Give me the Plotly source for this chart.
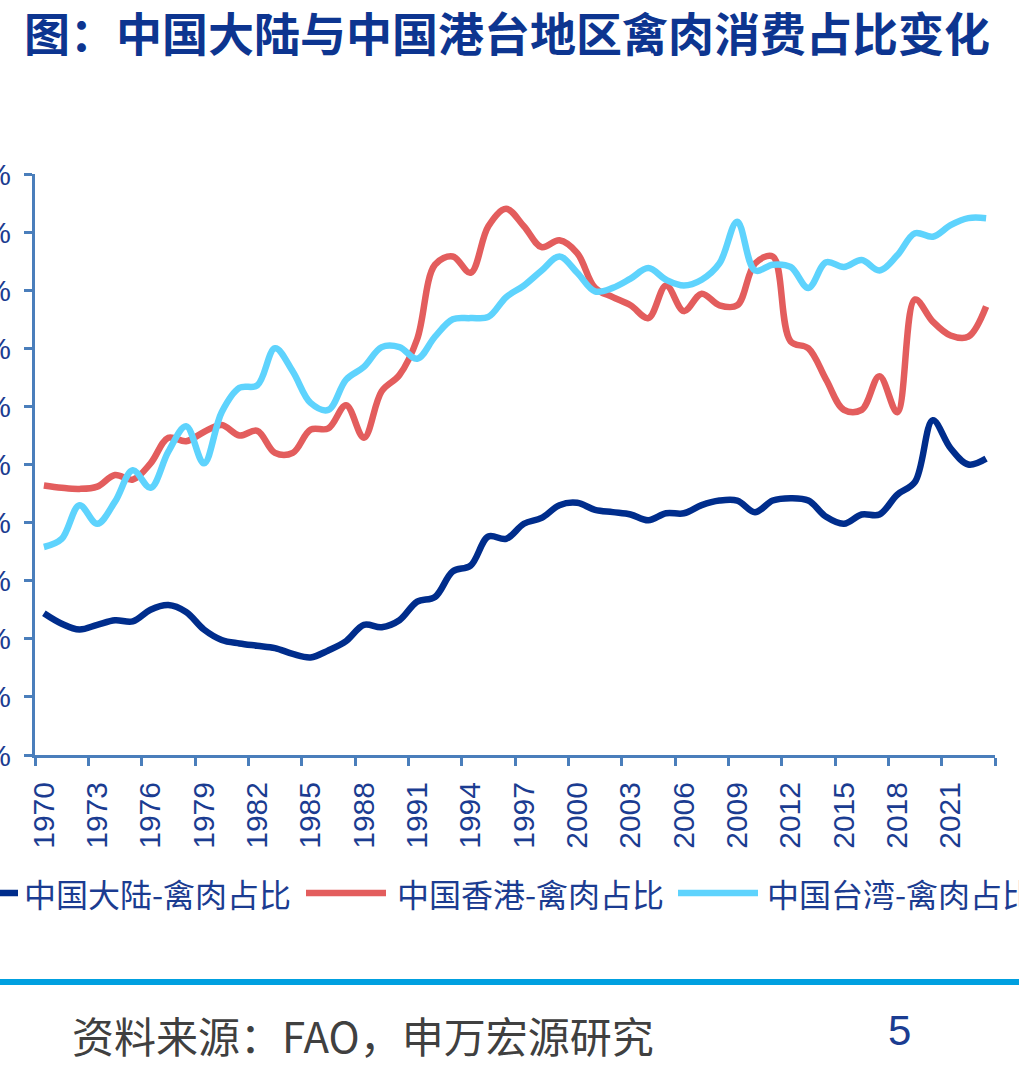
import plotly.graph_objects as go

# ---------------- data ----------------
years = list(range(1970, 2024))

mainland = [12.2, 11.3, 10.8, 11.2, 11.6, 11.5, 12.5, 12.9, 12.3, 10.8,
            9.9, 9.6, 9.4, 9.2, 8.7, 8.4, 9.0, 9.8, 11.2, 11.0,
            11.6, 13.2, 13.6, 15.8, 16.3, 18.8, 18.6, 19.9, 20.4, 21.5,
            21.7, 21.1, 20.9, 20.7, 20.2, 20.8, 20.8, 21.5, 21.9, 21.9,
            20.9, 21.9, 22.1, 21.9, 20.5, 19.9, 20.7, 20.7, 22.4, 23.5,
            28.8, 26.4, 25.0, 25.5]

hongkong = [23.2, 23.0, 22.9, 23.1, 24.1, 23.7, 25.1, 27.3, 27.0, 27.8,
            28.4, 27.5, 27.9, 26.0, 26.0, 28.0, 28.1, 30.1, 27.3, 31.3,
            32.7, 35.8, 42.2, 42.9, 41.5, 45.5, 47.0, 45.5, 43.7, 44.3,
            43.2, 40.2, 39.4, 38.7, 37.6, 40.4, 38.2, 39.7, 38.7, 38.7,
            42.3, 42.9, 35.6, 35.0, 32.3, 29.7, 29.7, 32.6, 29.5, 39.2,
            37.3, 36.1, 36.0, 38.6]

taiwan = [17.9, 18.6, 21.5, 19.9, 21.8, 24.5, 23.0, 26.1, 28.3, 25.1,
          29.5, 31.6, 31.8, 35.0, 33.0, 30.3, 29.7, 32.3, 33.4, 35.1,
          35.1, 34.1, 36.0, 37.5, 37.6, 37.7, 39.4, 40.4, 41.7, 42.9,
          41.5, 39.9, 40.2, 41.0, 41.9, 40.9, 40.4, 40.9, 42.3, 45.9,
          41.7, 42.2, 42.0, 40.2, 42.4, 42.0, 42.6, 41.7, 43.0, 44.9,
          44.6, 45.6, 46.2, 46.2]

series_names = ["中国大陆-禽肉占比", "中国香港-禽肉占比", "中国台湾-禽肉占比"]
x_tick_labels = [str(y) for y in range(1970, 2022, 3)] + [""]
y_tick_values = list(range(0, 51, 5))

title_text = "图：中国大陆与中国港台地区禽肉消费占比变化"
source_text = "资料来源：FAO，申万宏源研究"
page_text = "5"

# ---------------- style ----------------
W, H = 1019, 1069
PL, PR, PT, PB = 35, 995, 174, 755
C_MAIN = "#002D8C"
C_HK = "#E35D5D"
C_TW = "#5ED3FD"
C_AXIS = "#4A7EBB"
C_TEXT = "#1B3C91"
C_TITLE = "#0D3590"
CJK = "Noto Sans CJK SC"
LAT = "Liberation Sans, Arial"


def px_x(px):
    return (px - PL) / (PR - PL)


def px_y(py):
    return (PB - py) / (PB - PT)


fig = go.Figure()
for vals, color, name in [(mainland, C_MAIN, series_names[0]),
                          (hongkong, C_HK, series_names[1]),
                          (taiwan, C_TW, series_names[2])]:
    fig.add_trace(go.Scatter(x=years, y=vals, mode="lines", name=name,
                             line=dict(color=color, width=6.5, shape="spline", smoothing=1.0),
                             showlegend=False))

# category boundaries for ticks (every 3 categories)
x_tick_vals = [years[0] - 0.5 + 3 * k for k in range(len(x_tick_labels))]

fig.update_layout(
    width=W, height=H,
    margin=dict(l=PL, r=W - PR, t=PT, b=H - PB, pad=0),
    paper_bgcolor="white", plot_bgcolor="white",
    template="none",
    xaxis=dict(range=[years[0] - 0.5, years[-1] + 0.5], tickmode="array",
               tickvals=x_tick_vals, ticktext=x_tick_labels,
               showline=True, linecolor=C_AXIS, linewidth=3,
               ticks="outside", ticklen=8, tickwidth=2.5, tickcolor=C_AXIS,
               tickangle=-90, tickfont=dict(family=LAT, size=30, color=C_TEXT),
               ticklabelshift=9, ticklabelstandoff=4,
               showgrid=False, zeroline=False, automargin=False),
    yaxis=dict(range=[0, 50], tickmode="array", tickvals=y_tick_values,
               ticktext=[f"{v}%" for v in y_tick_values],
               showline=True, linecolor=C_AXIS, linewidth=3,
               ticks="outside", ticklen=8, tickwidth=2.5, tickcolor=C_AXIS,
               tickfont=dict(family=LAT, size=30, color=C_TEXT),
               ticklabelstandoff=7,
               showgrid=False, zeroline=False, automargin=False),
)

shapes = []
annotations = []

# legend (drawn manually)
legend_items = [(-62, 18, 22, C_MAIN, series_names[0]),
                (306, 386, 395, C_HK, series_names[1]),
                (678, 758, 765, C_TW, series_names[2])]
LEG_Y = 893
for x0, x1, tx, color, name in legend_items:
    shapes.append(dict(type="line", xref="paper", yref="paper",
                       x0=px_x(x0), x1=px_x(x1), y0=px_y(LEG_Y), y1=px_y(LEG_Y),
                       line=dict(color=color, width=6.5)))
    annotations.append(dict(text=name, xref="paper", yref="paper",
                            x=px_x(tx), y=px_y(LEG_Y), xanchor="left", yanchor="middle",
                            showarrow=False,
                            font=dict(family=CJK, size=32, color=C_TEXT)))

# footer rule
shapes.append(dict(type="line", xref="paper", yref="paper",
                   x0=px_x(0), x1=px_x(W), y0=px_y(982), y1=px_y(982),
                   line=dict(color="#00A0E0", width=6)))

# title
annotations.append(dict(text="<b>" + title_text + "</b>", xref="paper", yref="paper",
                        x=px_x(22), y=px_y(31), xanchor="left", yanchor="middle",
                        showarrow=False, font=dict(family=CJK, size=46, color=C_TITLE)))
# source
annotations.append(dict(text=source_text, xref="paper", yref="paper",
                        x=px_x(70), y=px_y(1034), xanchor="left", yanchor="middle",
                        showarrow=False, font=dict(family=CJK, size=42, color="#404040")))
# page number
annotations.append(dict(text=page_text, xref="paper", yref="paper",
                        x=px_x(899), y=px_y(1030), xanchor="center", yanchor="middle",
                        showarrow=False, font=dict(family=LAT, size=42, color=C_TEXT)))

fig.update_layout(shapes=shapes, annotations=annotations)

fig.write_html("out.html")
